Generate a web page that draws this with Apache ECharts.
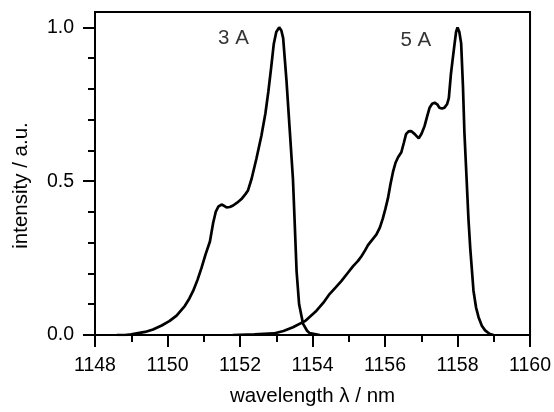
<!DOCTYPE html>
<html>
<head>
<meta charset="utf-8">
<script src="https://cdn.jsdelivr.net/npm/echarts@6/dist/echarts.min.js"></script>
<style>
html,body{margin:0;padding:0;background:#fff;}
#chart{width:554px;height:412px;}
</style>
</head>
<body>
<div id="chart"></div>
<script>
// wavelength (nm) and intensity (a.u.) for I = 3 A
var wl3 = [1148.6,1148.83,1149.0,1149.38,1149.6,1149.84,1150.05,1150.25,1150.48,1150.6,1150.71,1150.83,1150.94,1151.05,1151.17,1151.26,1151.33,1151.40,1151.49,1151.56,1151.63,1151.72,1151.81,1151.92,1152.04,1152.15,1152.22,1152.32,1152.45,1152.59,1152.70,1152.78,1152.86,1152.93,1153.00,1153.08,1153.14,1153.19,1153.28,1153.37,1153.46,1153.51,1153.56,1153.63,1153.74,1153.85,1153.92,1154.2];
var int3 = [0,0,0.002,0.01,0.018,0.031,0.045,0.063,0.095,0.118,0.144,0.18,0.219,0.262,0.304,0.365,0.40,0.417,0.424,0.42,0.415,0.416,0.421,0.43,0.442,0.458,0.47,0.508,0.572,0.648,0.72,0.79,0.87,0.945,0.985,1.0,0.99,0.965,0.83,0.669,0.508,0.36,0.208,0.10,0.036,0.014,0.006,0];
// wavelength (nm) and intensity (a.u.) for I = 5 A
var wl5 = [1151.8,1152.4,1152.93,1153.2,1153.46,1153.79,1154.11,1154.3,1154.47,1154.64,1154.80,1154.96,1155.12,1155.25,1155.35,1155.45,1155.53,1155.65,1155.76,1155.86,1155.94,1156.01,1156.08,1156.15,1156.22,1156.29,1156.36,1156.45,1156.52,1156.58,1156.65,1156.72,1156.82,1156.93,1157.01,1157.09,1157.16,1157.23,1157.30,1157.37,1157.44,1157.50,1157.57,1157.64,1157.71,1157.76,1157.82,1157.87,1157.92,1157.96,1158.00,1158.05,1158.10,1158.15,1158.19,1158.25,1158.30,1158.35,1158.44,1158.51,1158.58,1158.67,1158.76,1158.88,1158.99];
var int5 = [0,0.002,0.005,0.013,0.025,0.045,0.079,0.105,0.133,0.155,0.176,0.2,0.224,0.24,0.256,0.275,0.292,0.31,0.326,0.35,0.379,0.41,0.444,0.49,0.53,0.56,0.578,0.594,0.625,0.653,0.662,0.663,0.653,0.639,0.655,0.679,0.71,0.739,0.752,0.755,0.75,0.739,0.736,0.739,0.75,0.77,0.851,0.9,0.948,0.985,1.0,0.985,0.948,0.808,0.658,0.508,0.38,0.283,0.144,0.09,0.058,0.03,0.015,0.004,0];
// annotations
var noteText = ['3 A','5 A'];
var noteX = [1151.82,1156.85];
var noteY = [0.964,0.959];
// axis ticks
var xMin = 1148, xMax = 1160, xStep = 2;
var yMajor = [0, 0.5, 1.0];
var yMinor = [0.1,0.2,0.3,0.4,0.6,0.7,0.8,0.9];
var yMin = 0, yMax = 1.05;

function pairs(xs, ys){ return xs.map(function(v,i){ return [v, ys[i]]; }); }

var FONT = "'Liberation Sans', Arial, sans-serif";
var chart = echarts.init(document.getElementById('chart'), null, {renderer:'canvas'});
chart.setOption({
  animation:false,
  backgroundColor:'#fff',
  grid:{left:95, right:23.5, top:12, bottom:74, show:true, borderColor:'#000', borderWidth:2, backgroundColor:'transparent'},
  xAxis:{
    type:'value', min:xMin, max:xMax, interval:xStep,
    name:'wavelength \u03bb / nm', nameLocation:'middle', nameGap:51,
    nameTextStyle:{fontFamily:FONT, fontSize:20.5, color:'#000'},
    axisLine:{show:true, onZero:false, lineStyle:{color:'#000', width:2}},
    axisTick:{show:true, inside:false, length:12, lineStyle:{color:'#000', width:2}},
    minorTick:{show:true, splitNumber:2, length:7, lineStyle:{color:'#000', width:2}},
    axisLabel:{fontFamily:FONT, fontSize:19.5, color:'#000', margin:21,
      formatter:function(v){ return String(v); }},
    splitLine:{show:false}, minorSplitLine:{show:false}
  },
  yAxis:[{
    type:'value', min:yMin, max:yMax, position:'left',
    name:'intensity / a.u.', nameLocation:'middle', nameGap:63,
    nameTextStyle:{fontFamily:FONT, fontSize:20.5, color:'#000', padding:[0,24,0,0]},
    axisLine:{show:true, onZero:false, lineStyle:{color:'#000', width:2}},
    axisTick:{show:true, inside:false, length:12, customValues:yMajor, lineStyle:{color:'#000', width:2}},
    axisLabel:{fontFamily:FONT, fontSize:19.5, color:'#000', margin:21, customValues:yMajor,
      formatter:function(v){ return v.toFixed(1); }},
    splitLine:{show:false}
  },{
    type:'value', min:yMin, max:yMax, position:'left', offset:0,
    axisLine:{show:false},
    axisTick:{show:true, inside:false, length:7, customValues:yMinor, lineStyle:{color:'#000', width:2}},
    axisLabel:{show:false},
    splitLine:{show:false}
  }],
  series:[{
    name:'3 A', type:'line', data:pairs(wl3,int3), showSymbol:false, symbol:'none',
    lineStyle:{color:'#000', width:2.7}, itemStyle:{color:'#000'}
  },{
    name:'5 A', type:'line', data:pairs(wl5,int5), showSymbol:false, symbol:'none',
    lineStyle:{color:'#000', width:2.7}, itemStyle:{color:'#000'}
  },{
    name:'notes', type:'scatter', symbolSize:0.01, itemStyle:{color:'#000'},
    data:noteX.map(function(v,i){ return {value:[v, noteY[i]], name:noteText[i]}; }),
    label:{show:true, position:[0,0], align:'center', verticalAlign:'middle',
      formatter:function(p){ return p.name; },
      fontFamily:FONT, fontSize:20.5, color:'#000', textBorderWidth:0},
    silent:true
  }]
});
</script>
</body>
</html>
